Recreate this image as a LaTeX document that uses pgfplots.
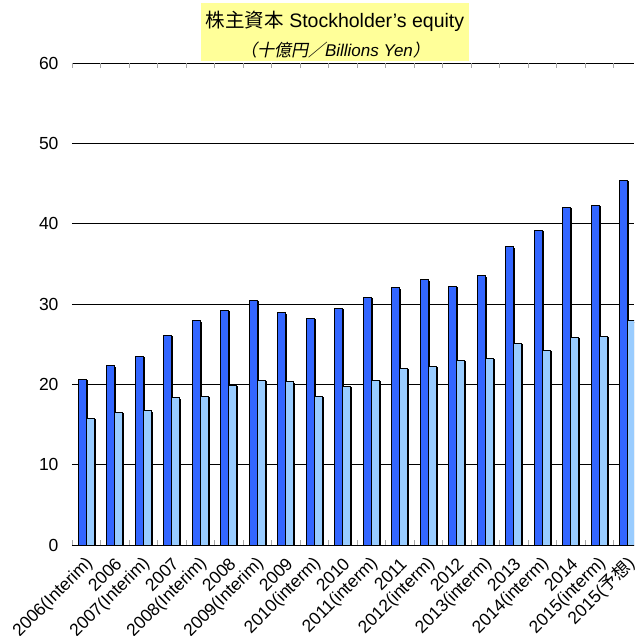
\documentclass[border=0pt]{standalone}
\usepackage{pgfplots}
\pgfplotsset{compat=1.18}
\usepackage{pgfplotstable}
\usepackage{fontspec}
\setmainfont{Liberation Sans}
\newfontfamily\jp{Noto Sans CJK JP}
\newfontfamily\jpit{Noto Sans CJK JP}[FakeSlant=0.2]
\usetikzlibrary{shadows}
\definecolor{darkb}{HTML}{3366FF}
\definecolor{lightb}{HTML}{99CCFF}
\definecolor{titlebg}{HTML}{FFFF99}

\pgfplotstableread{
x dark light
0 20.6 15.8
1 22.3 16.5
2 23.5 16.7
3 26.1 18.3
4 27.9 18.5
5 29.2 19.9
6 30.4 20.5
7 28.9 20.3
8 28.2 18.5
9 29.5 19.7
10 30.8 20.5
11 32.0 22.0
12 33.0 22.2
13 32.2 23.0
14 33.5 23.2
15 37.1 25.1
16 39.2 24.2
17 42.0 25.8
18 42.3 26.0
19 45.4 27.9
}\data

\begin{document}
\begin{tikzpicture}
\begin{axis}[
  scale only axis, width=562pt, height=482pt,
  xmin=-0.5, xmax=19.22, ymin=0, ymax=60,
  ybar=0pt, bar width=8pt,
  axis line style={draw=none},
  ytick={0,10,...,60},
  ymajorgrids,
  major grid style={black, line width=0.9pt},
  ytick style={draw=none},
  /pgf/number format/assume math mode=true,
  yticklabel style={font=\fontsize{17.5}{17.5}\selectfont, xshift=-10pt},
  xtick={0,...,19},
  xticklabels={2006(Interim),2006,2007(Interim),2007,2008(Interim),2008,2009(Interim),2009,2010(interm),2010,2011(interm),2011,2012(interm),2012,2013(interm),2013,2014(interm),2014,2015(interm),{2015({\jp 予想})}},
  x tick style={draw=none},
  xticklabel style={font=\fontsize{17.5}{17.5}\selectfont, rotate=45, anchor=east, xshift=-2pt, yshift=-11pt},
  extra x ticks={-0.5,0.5,...,19.5},
  extra x tick labels={},
  extra x tick style={x tick style={draw=gray!70, line width=0.8pt}, major tick length=5pt, tick align=inside},
]
\addplot[fill=darkb, draw=black, line width=1pt,
  drop shadow={shadow xshift=1.2pt, shadow yshift=-1.2pt, fill=black!30, opacity=1}]
  table[x=x, y=dark] {\data};
\addplot[fill=lightb, draw=black, line width=1pt,
  drop shadow={shadow xshift=1.2pt, shadow yshift=-1.2pt, fill=black!30, opacity=1}]
  table[x=x, y=light] {\data};
\end{axis}
\node[fill=titlebg, minimum width=268pt, minimum height=58pt, inner sep=0pt] at (263pt,513pt) {};
\node[font=\fontsize{19.5}{19.5}\selectfont, inner sep=0pt] at (263pt,524pt) {{\jp 株主資本} Stockholder's equity};
\node[font=\itshape\fontsize{17}{17}\selectfont, inner sep=0pt] at (263pt,495pt) {{\jpit （十億円／}Billions Yen{\jpit ）}};
\pgfresetboundingbox
\useasboundingbox (-72pt,-91pt) rectangle (562pt,545pt);
\end{tikzpicture}
\end{document}
